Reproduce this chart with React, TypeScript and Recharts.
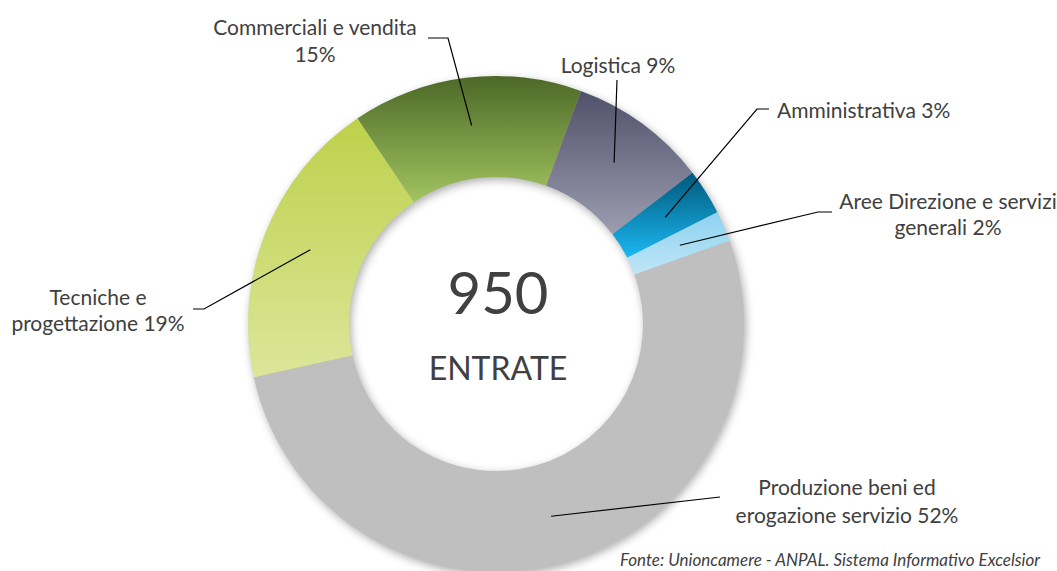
import { Cell, Pie, PieChart } from 'recharts'

// quote per area aziendale (% sul totale entrate)
const areas = [
  'Commerciali e vendita',
  'Logistica',
  'Amministrativa',
  'Aree Direzione e servizi generali',
  'Produzione beni ed erogazione servizio',
  'Tecniche e progettazione',
]
const shares = [15, 9, 3, 2, 52, 19]
const labelText = [
  ['Commerciali e vendita', '15%'],
  ['Logistica 9%'],
  ['Amministrativa 3%'],
  ['Aree Direzione e servizi', 'generali 2%'],
  ['Produzione beni ed', 'erogazione servizio 52%'],
  ['Tecniche e', 'progettazione 19%'],
]
const totalEntries = 950
const centerCaption = 'ENTRATE'
const sourceNote = 'Fonte: Unioncamere - ANPAL. Sistema Informativo Excelsior'

const gradients = [
  ['#4c6827', '#a2c460'],
  ['#50516a', '#9c9db0'],
  ['#00587a', '#1bb8f2'],
  ['#8dd2f0', '#bfe6f7'],
  ['#bfbfbf', '#bfbfbf'],
  ['#bdd14a', '#dce69a'],
]

// leader lines: elbow / end point and text position, relative to the pie centre
const layout = [
  { elbow: [-48, -286], end: [-68, -286], tx: -181, ty: [-298, -271], anchor: 'middle' },
  { elbow: [121, -244], end: [121, -244], tx: 122, ty: [-260], anchor: 'middle' },
  { elbow: [261, -215], end: [273, -215], tx: 281, ty: [-215], anchor: 'start' },
  { elbow: [322, -112], end: [336, -112], tx: 452, ty: [-124, -98], anchor: 'middle' },
  { elbow: [224, 173], end: [224, 173], tx: 351, ty: [162, 190], anchor: 'middle' },
  { elbow: [-292, -15], end: [-303, -15], tx: -398, ty: [-28, -2], anchor: 'middle' },
]

const data = areas.map((name, i) => ({ name, value: shares[i] }))

const CX = 496
const CY = 324
const FONT = 'Lato, "Open Sans", sans-serif'
const TEXT = '#404040'
const RAD = Math.PI / 180

function renderLabel(props: any) {
  const { cx, cy, midAngle, index } = props
  const l = layout[index]
  const r = 200
  const ax = cx + r * Math.cos(-midAngle * RAD)
  const ay = cy + r * Math.sin(-midAngle * RAD)
  const pts = `${ax},${ay} ${cx + l.elbow[0]},${cy + l.elbow[1]} ${cx + l.end[0]},${cy + l.end[1]}`
  return (
    <g key={`lbl-${index}`}>
      <polyline points={pts} fill="none" stroke="#000" strokeWidth={1.2} />
      {labelText[index].map((line, j) => (
        <text
          key={j}
          x={cx + l.tx}
          y={cy + l.ty[j]}
          textAnchor={l.anchor as any}
          dominantBaseline="central"
          fontFamily={FONT}
          fontSize={21}
          fill={TEXT}
        >
          {line}
        </text>
      ))}
    </g>
  )
}

export default function App() {
  return (
    <div style={{ position: 'relative', width: 1057, height: 571, overflow: 'hidden', background: '#fff' }}>
      <style>{`body{margin:0}`}</style>
      <PieChart width={1057} height={571} margin={{ top: 0, right: 0, bottom: 0, left: 0 }}>
        <defs>
          {gradients.map(([top, bottom], i) => (
            <linearGradient key={i} id={`slice${i}`} x1="0" y1="0" x2="0" y2="1">
              <stop offset="0%" stopColor={top} />
              <stop offset="100%" stopColor={bottom} />
            </linearGradient>
          ))}
          <filter id="ringShadow" x="-20%" y="-20%" width="140%" height="140%">
            <feOffset in="SourceGraphic" dx="2" dy="3" result="off" />
            <feGaussianBlur in="off" stdDeviation="4" />
          </filter>
        </defs>
        {/* shadow ring */}
        <Pie
          data={data}
          dataKey="value"
          nameKey="name"
          cx={CX}
          cy={CY}
          innerRadius={147}
          outerRadius={248}
          startAngle={124}
          endAngle={-236}
          stroke="none"
          label={false}
          labelLine={false}
          isAnimationActive={false}
        >
          {data.map(d => (
            <Cell key={d.name} fill="#000" fillOpacity={0.32} stroke="none" filter="url(#ringShadow)" />
          ))}
        </Pie>
        <Pie
          data={data}
          dataKey="value"
          nameKey="name"
          cx={CX}
          cy={CY}
          innerRadius={147}
          outerRadius={248}
          startAngle={124}
          endAngle={-236}
          stroke="none"
          label={renderLabel}
          labelLine={false}
          isAnimationActive={false}
        >
          {data.map((d, i) => (
            <Cell key={d.name} fill={`url(#slice${i})`} stroke="none" />
          ))}
        </Pie>
        <text x={CX + 2} y={CY - 33} textAnchor="middle" dominantBaseline="central" fontFamily={FONT} fontSize={58} fill={TEXT}>
          {totalEntries}
        </text>
        <text x={CX + 2} y={CY + 43} textAnchor="middle" dominantBaseline="central" fontFamily={FONT} fontSize={32} fill={TEXT}>
          {centerCaption}
        </text>
        <text x={620} y={566} fontFamily={FONT} fontStyle="italic" fontSize={17} fill={TEXT}>
          {sourceNote}
        </text>
      </PieChart>
    </div>
  )
}
